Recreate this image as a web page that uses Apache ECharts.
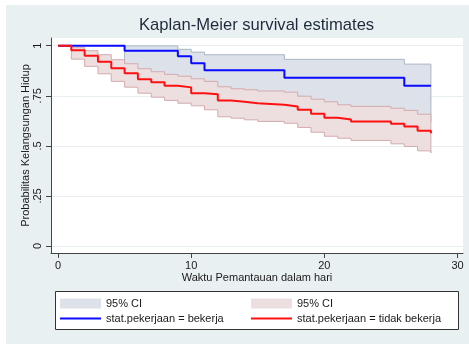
<!DOCTYPE html>
<html><head><meta charset="utf-8">
<script src="https://cdn.jsdelivr.net/npm/echarts@6/dist/echarts.min.js"></script>
<style>html,body{margin:0;padding:0;background:#fff}#c{width:469px;height:344px}</style>
</head><body><div id="c"></div>
<script>
// ---- data ----
const blueTimes = [0, 5, 9, 10, 11, 17, 26, 28];
const blueSurv  = [1, 0.975, 0.947, 0.913, 0.878, 0.84, 0.80, 0.80];
const blueCITimes = [5, 9, 10, 11, 17, 26, 28];
const blueCIUpper = [0.999, 0.982, 0.968, 0.955, 0.932, 0.908, 0.908];
const blueCILower = [0.83, 0.80, 0.77, 0.73, 0.68, 0.62, 0.62];

const redTimes = [0, 1, 2, 3, 4, 5, 6, 7, 8, 9, 10, 11, 12, 13, 14, 15, 17, 18, 19, 20, 21, 22, 25, 26, 27, 28];
const redSurv  = [1, 0.977, 0.95, 0.92, 0.888, 0.862, 0.833, 0.817, 0.80, 0.792, 0.763, 0.758, 0.727, 0.72, 0.713, 0.705, 0.697, 0.68, 0.66, 0.64, 0.632, 0.622, 0.61, 0.597, 0.575, 0.563];
const redCITimes = [1, 2, 3, 4, 5, 6, 7, 8, 9, 10, 11, 12, 13, 14, 15, 17, 18, 19, 20, 21, 22, 25, 26, 27, 28];
const redCIUpper = [0.99, 0.975, 0.955, 0.93, 0.91, 0.885, 0.87, 0.857, 0.848, 0.835, 0.822, 0.795, 0.785, 0.78, 0.774, 0.768, 0.748, 0.733, 0.72, 0.705, 0.697, 0.688, 0.677, 0.658, 0.655];
const redCILower = [0.933, 0.897, 0.86, 0.822, 0.793, 0.763, 0.743, 0.727, 0.713, 0.70, 0.68, 0.645, 0.638, 0.63, 0.622, 0.613, 0.592, 0.568, 0.548, 0.538, 0.527, 0.51, 0.497, 0.475, 0.465];

const xTicks = [0, 10, 20, 30];
const xTickLabels = ['0', '10', '20', '30'];
const yTicks = [0, 0.25, 0.5, 0.75, 1];
const yTickLabels = ['0', '.25', '.5', '.75', '1'];

const titleText = 'Kaplan-Meier survival estimates';
const xName = 'Waktu Pemantauan dalam hari';
const yName = 'Probabilitas Kelangsungan Hidup';
const ciLabel = '95% CI';
const nameBekerja = 'stat.pekerjaan = bekerja';
const nameTidak = 'stat.pekerjaan = tidak bekerja';

// ---- styling ----
const FONT = '"Liberation Sans", Arial, sans-serif';
const BLUE = '#0a0aff', RED = '#ff1010';
const BLUE_FILL = '#dde2ea', BLUE_EDGE = '#a9b5c5';
const RED_FILL = '#eddfe0', RED_EDGE = '#d3aaad';

function bandSeries(name, times, lo, hi, fill, edge, z) {
  return {
    type: 'custom', name: name, coordinateSystem: 'cartesian2d',
    silent: true, z: z,
    itemStyle: { color: fill },
    data: [[times[0], hi[0]]],
    renderItem: function (params, api) {
      const pts = [];
      const n = times.length;
      for (let i = 0; i < n; i++) {
        pts.push(api.coord([times[i], hi[i]]));
        if (i < n - 1) pts.push(api.coord([times[i + 1], hi[i]]));
      }
      for (let i = n - 1; i >= 0; i--) {
        if (i < n - 1) pts.push(api.coord([times[i + 1], lo[i]]));
        pts.push(api.coord([times[i], lo[i]]));
      }
      return { type: 'polygon', shape: { points: pts }, style: { fill: fill, stroke: edge, lineWidth: 1 } };
    }
  };
}

const legendCommon = {
  orient: 'horizontal', padding: 0, selectedMode: false,
  itemWidth: 41, itemHeight: 10,
  textStyle: { fontSize: 11, color: '#1a1a1a', fontFamily: FONT }
};
const legendLine = Object.assign({}, legendCommon, { itemHeight: 2 });

const chart = echarts.init(document.getElementById('c'), null, { renderer: 'canvas' });
chart.setOption({
  animation: false,
  backgroundColor: '#ffffff',
  textStyle: { fontFamily: FONT },
  graphic: [
    { type: 'rect', z: -10, shape: { x: 6, y: 5, width: 463, height: 339 }, style: { fill: '#e9f0f2' } },
    { type: 'rect', z: 1, shape: { x: 55.5, y: 291.5, width: 403, height: 38 }, style: { fill: '#ffffff', stroke: '#333333', lineWidth: 1 } }
  ],
  title: {
    text: titleText, left: 139, top: 17, padding: 0,
    textStyle: { fontSize: 16.6, fontWeight: 'normal', color: '#1e2b3c', fontFamily: FONT }
  },
  grid: { left: 51, right: 6, top: 38, bottom: 91, show: true, backgroundColor: '#ffffff', borderWidth: 0 },
  xAxis: {
    type: 'value', min: -0.526, max: 30.41,
    name: xName, nameLocation: 'middle', nameGap: 19, nameMoveOverlap: false,
    nameTextStyle: { fontSize: 11, color: '#1a1a1a', fontFamily: FONT },
    axisLine: { show: true, onZero: false, lineStyle: { color: '#444', width: 1 } },
    axisTick: { show: true, customValues: xTicks, length: 5, lineStyle: { color: '#444' } },
    axisLabel: { customValues: xTicks, margin: 7, fontSize: 11, color: '#1a1a1a', fontFamily: FONT,
      formatter: function (v) { return xTickLabels[xTicks.indexOf(v)]; } },
    splitLine: { show: false }
  },
  yAxis: {
    type: 'value', min: -0.035, max: 1.0385,
    name: yName, nameLocation: 'middle', nameGap: 20, nameMoveOverlap: false,
    nameTextStyle: { fontSize: 11, color: '#1a1a1a', fontFamily: FONT },
    axisLine: { show: true, onZero: false, lineStyle: { color: '#444', width: 1 } },
    axisTick: { show: true, customValues: yTicks, length: 5, lineStyle: { color: '#444' } },
    axisLabel: { customValues: yTicks, rotate: 90, margin: 8, fontSize: 11, color: '#1a1a1a', fontFamily: FONT,
      formatter: function (v) { return yTickLabels[yTicks.indexOf(v)]; } },
    splitLine: { show: true, lineStyle: { color: '#e6eef0', width: 1 } }
  },
  legend: [
    Object.assign({ left: 60, top: 298, data: [{ name: 'ciBekerja', icon: 'rect' }], formatter: ciLabel }, legendCommon),
    Object.assign({ left: 251, top: 298, data: [{ name: 'ciTidak', icon: 'rect' }], formatter: ciLabel }, legendCommon),
    Object.assign({ left: 60, top: 313, data: [{ name: nameBekerja, icon: 'rect' }] }, legendLine),
    Object.assign({ left: 251, top: 313, data: [{ name: nameTidak, icon: 'rect' }] }, legendLine)
  ],
  series: [
    bandSeries('ciBekerja', blueCITimes, blueCILower, blueCIUpper, BLUE_FILL, BLUE_EDGE, 2),
    bandSeries('ciTidak', redCITimes, redCILower, redCIUpper, RED_FILL, RED_EDGE, 3),
    { type: 'line', name: nameBekerja, z: 4, silent: true, step: 'end', symbol: 'none',
      data: blueTimes.map(function (t, i) { return [t, blueSurv[i]]; }),
      lineStyle: { color: BLUE, width: 2 }, itemStyle: { color: BLUE } },
    { type: 'line', name: nameTidak, z: 5, silent: true, step: 'end', symbol: 'none',
      data: redTimes.map(function (t, i) { return [t, redSurv[i]]; }),
      lineStyle: { color: RED, width: 2 }, itemStyle: { color: RED } }
  ]
});
</script>
</body></html>
